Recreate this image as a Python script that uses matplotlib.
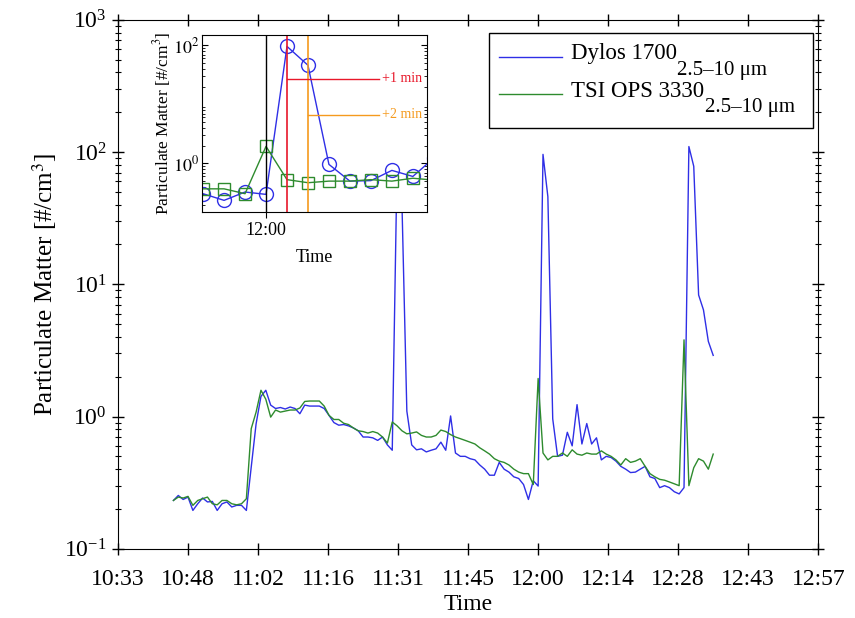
import numpy as np
import matplotlib
matplotlib.use('Agg')
import matplotlib.pyplot as plt
from matplotlib.lines import Line2D
from matplotlib.offsetbox import AnchoredOffsetbox, DrawingArea, TextArea, HPacker, VPacker
from matplotlib.ticker import FixedLocator, FuncFormatter, LogLocator, NullFormatter

plt.rcParams['font.family'] = ['Liberation Serif', 'DejaVu Serif']
plt.rcParams['mathtext.fontset'] = 'stix'

# one sample per minute, first sample at 10:45
t_start = 10 * 60 + 45

dylos = [0.232, 0.253, 0.236, 0.246, 0.195, 0.219, 0.242, 0.226, 0.228, 0.195,
         0.219, 0.226, 0.207, 0.213, 0.213, 0.195, 0.415, 0.88, 1.42, 1.58,
         1.22, 1.15, 1.17, 1.14, 1.18, 1.15, 1.05, 1.22, 1.20, 1.20,
         1.20, 1.15, 1.02, 0.90, 0.86, 0.87, 0.85, 0.82, 0.78, 0.70,
         0.70, 0.69, 0.66, 0.70, 0.61, 0.556, 85.0, 40.0, 1.1, 0.61,
         0.56, 0.57, 0.54, 0.556, 0.57, 0.64, 0.556, 1.01, 0.53, 0.50,
         0.50, 0.48, 0.47, 0.43, 0.40, 0.36, 0.36, 0.45, 0.40, 0.38,
         0.35, 0.34, 0.306, 0.236, 0.327, 0.298, 96.0, 46.0, 0.96, 0.50,
         0.51, 0.76, 0.60, 1.23, 0.62, 0.885, 0.62, 0.69, 0.47, 0.50,
         0.49, 0.46, 0.42, 0.40, 0.377, 0.38, 0.40, 0.42, 0.35, 0.34,
         0.29, 0.30, 0.29, 0.27, 0.26, 0.29, 110.0, 78.0, 8.3, 6.4,
         3.7, 2.9]

ops = [0.232, 0.246, 0.242, 0.249, 0.213, 0.232, 0.239, 0.246, 0.219, 0.215,
       0.232, 0.232, 0.219, 0.215, 0.219, 0.239, 0.81, 1.08, 1.58, 1.35,
       0.99, 1.12, 1.08, 1.10, 1.12, 1.12, 1.16, 1.30, 1.31, 1.31,
       1.31, 1.20, 1.02, 0.95, 0.95, 0.89, 0.87, 0.82, 0.78, 0.77,
       0.75, 0.77, 0.75, 0.70, 0.63, 0.91, 0.85, 0.78, 0.74, 0.75,
       0.765, 0.72, 0.70, 0.70, 0.72, 0.79, 0.77, 0.73, 0.70, 0.68,
       0.66, 0.64, 0.62, 0.58, 0.55, 0.52, 0.48, 0.46, 0.45, 0.43,
       0.40, 0.38, 0.37, 0.37, 0.306, 1.94, 0.53, 0.47, 0.50, 0.50,
       0.53, 0.50, 0.56, 0.52, 0.51, 0.53, 0.52, 0.52, 0.55, 0.52,
       0.50, 0.47, 0.43, 0.48, 0.45, 0.46, 0.48, 0.42, 0.37, 0.35,
       0.335, 0.33, 0.32, 0.31, 0.30, 3.8, 0.30, 0.41, 0.48, 0.46,
       0.40, 0.52]

names = ['Dylos 1700', 'TSI OPS 3330']
size_range = '2.5\u201310 \u03bcm'

minutes = t_start + np.arange(len(dylos))

blue = '#2f2fe6'
green = '#2e8b2e'


def hhmm(v, pos=None):
    v = int(np.floor(v + 1e-6))
    return '%d:%02d' % (v // 60, v % 60)


fig = plt.figure(figsize=(8.55, 6.18), dpi=100)
ax = fig.add_axes([0.138, 0.112, 0.819, 0.856])
ax.plot(minutes, dylos, color=blue, lw=1.0, label=names[0])
ax.plot(minutes, ops, color=green, lw=1.0, label=names[1])
ax.set_yscale('log')
ax.set_ylim(0.1, 1000)
ax.set_xlim(633.6, 777.6)
ax.xaxis.set_major_locator(FixedLocator(633.6 + 14.4 * np.arange(11)))
ax.xaxis.set_major_formatter(FuncFormatter(hhmm))
ax.yaxis.set_major_locator(LogLocator(base=10, numticks=10))
ax.yaxis.set_minor_locator(LogLocator(base=10, subs=np.arange(2, 10), numticks=20))
ax.yaxis.set_minor_formatter(NullFormatter())
ax.tick_params(which='both', direction='inout', top=True, right=True, labelsize=17)
ax.tick_params(which='major', length=9, width=1)
ax.tick_params(which='minor', length=5, width=0.8)
ax.tick_params(axis='x', pad=10)
ax.set_xlabel('Time', fontsize=17, labelpad=3)
ax.set_ylabel('Particulate Matter [#/cm$^3$]', fontsize=18, labelpad=4)

# legend built from offset boxes so the size range can sit as a large subscript
rows = []
for name, color in zip(names, [blue, green]):
    handle = DrawingArea(52, 14, 0, 0)
    handle.add_artist(Line2D([0, 45], [16.5, 16.5], color=color, lw=1.0))
    main = VPacker(children=[TextArea(name, textprops=dict(fontsize=16.5)),
                             DrawingArea(1, 11, 0, 0)], pad=0, sep=0, align='left')
    sub = TextArea(size_range, textprops=dict(fontsize=15))
    tail = DrawingArea(6, 1, 0, 0)
    rows.append(HPacker(children=[handle, main, sub, tail], align='bottom', pad=0, sep=0))
legend_box = AnchoredOffsetbox(loc='upper right',
                               child=VPacker(children=rows, align='left', pad=0, sep=1),
                               pad=0.47, borderpad=0, frameon=True,
                               bbox_to_anchor=(0.993, 0.975),
                               bbox_transform=ax.transAxes, prop=dict(size=16))
legend_box.patch.set_edgecolor('black')
legend_box.patch.set_linewidth(1.0)
legend_box.set_zorder(5)
ax.add_artist(legend_box)

# zoomed view around the second spike
ins = fig.add_axes([0.2363, 0.657, 0.263, 0.2864])
ins.plot(minutes, dylos, color=blue, lw=1.0, marker='o', ms=10, mfc='none', mew=1.0)
ins.plot(minutes, ops, color=green, lw=1.0, marker='s', ms=8, mfc='none', mew=1.0)
ins.set_yscale('log')
ins.set_ylim(0.15, 150)
ins.set_xlim(716.95, 727.67)
ins.axvline(720, color='black', lw=1.0)
ins.axvline(721, color='#e8182a', lw=1.2)
ins.axvline(722, color='#f59a1e', lw=1.2)
ins.plot([721, 725.4], [27.4, 27.4], color='#e8182a', lw=1.0)
ins.text(725.55, 27.4, '+1 min', color='#e8182a', fontsize=10, va='center')
ins.plot([722, 725.4], [6.7, 6.7], color='#f59a1e', lw=1.0)
ins.text(725.55, 6.7, '+2 min', color='#f59a1e', fontsize=10, va='center', clip_on=True)
ins.xaxis.set_major_locator(FixedLocator([720]))
ins.xaxis.set_major_formatter(FuncFormatter(hhmm))
ins.yaxis.set_major_locator(FixedLocator([1, 100]))
ins.yaxis.set_major_formatter(FuncFormatter(lambda v, p: r'$10^{%d}$' % round(np.log10(v))))
ins.yaxis.set_minor_locator(LogLocator(base=10, subs=np.arange(2, 10), numticks=20))
ins.yaxis.set_minor_formatter(NullFormatter())
ins.tick_params(axis='x', direction='out', length=4, labelsize=13)
ins.tick_params(axis='y', which='both', direction='in', right=True, labelsize=13, pad=2)
ins.tick_params(axis='y', which='major', length=4)
ins.tick_params(axis='y', which='minor', length=2)
ins.set_xlabel('Time', fontsize=13, labelpad=7)
ins.set_ylabel('Particulate Matter [#/cm$^3$]', fontsize=12.5, labelpad=0)

fig.savefig('out.png', dpi=100)
